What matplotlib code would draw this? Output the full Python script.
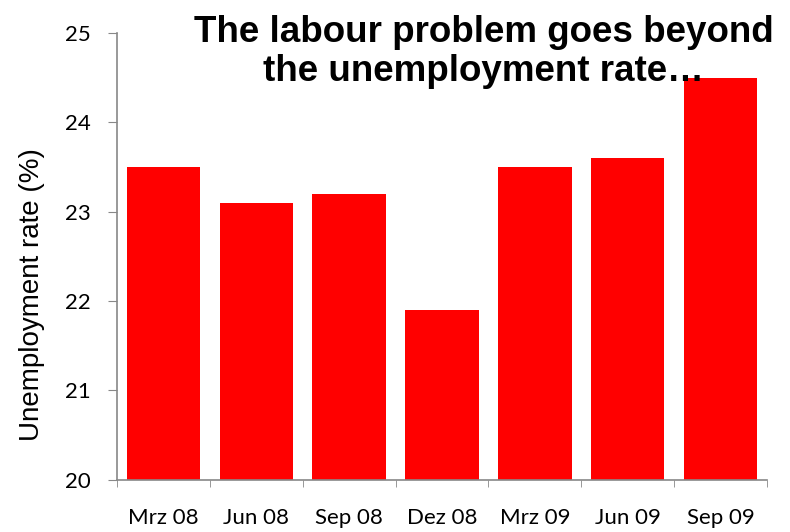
import matplotlib
matplotlib.use("Agg")
import matplotlib.pyplot as plt
import numpy as np

categories = ["Mrz 08", "Jun 08", "Sep 08", "Dez 08", "Mrz 09", "Jun 09", "Sep 09"]
rates = [23.5, 23.1, 23.2, 21.9, 23.5, 23.6, 24.5]
yticks = [20, 21, 22, 23, 24, 25]

fig = plt.figure(figsize=(7.9, 5.32), dpi=100)
ax = fig.add_axes([0.148, 0.098, 0.823, 0.84])

x = np.arange(len(categories))
ax.bar(x, rates, width=0.79, color="#ff0000", zorder=2)

ax.set_xlim(-0.5, len(categories) - 0.5)
ax.set_ylim(20, 25)
ax.set_yticks(yticks)
ax.set_xticks(x)
ax.set_xticklabels(categories, family="Lato", fontsize=16)
ax.set_xticks(np.arange(-0.5, len(categories)), minor=True)
ax.tick_params(axis="x", which="major", length=0, pad=20)
ax.tick_params(axis="x", which="minor", length=5, color="#888888", direction="out")
ax.tick_params(axis="y", length=6.5, color="#888888", labelsize=16, pad=12)
for lab in ax.get_yticklabels():
    lab.set_family("Lato")

for s in ["top", "right"]:
    ax.spines[s].set_visible(False)
for s in ["left", "bottom"]:
    ax.spines[s].set_color("#888888")
    ax.spines[s].set_linewidth(1.2)

ax.set_ylabel("Unemployment rate (%)", family="Liberation Sans", fontsize=20)
ax.yaxis.set_label_coords(-0.11, 0.414)

fig.text(0.612, 0.972, "The labour problem goes beyond\nthe unemployment rate\u2026",
         ha="center", va="top", family="Liberation Sans", fontweight="bold",
         fontsize=26.5, linespacing=1.15)

fig.savefig("out.png", dpi=100)
